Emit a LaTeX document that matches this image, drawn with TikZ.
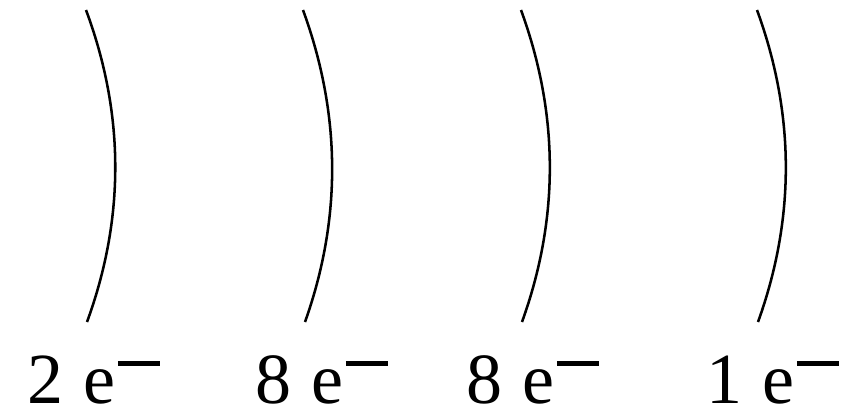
\documentclass[tikz,border=0pt]{standalone}
\usepackage{fontspec}
\setmainfont{Liberation Serif}
\tikzset{every picture/.style={line width=0.75pt}}
\tikzset{shell/.style={line width=1.9pt},
  count/.style={anchor=base west,inner sep=0pt,font=\fontsize{54}{60}\selectfont}}
\newcommand{\elec}{e\hspace{0.03em}\raisebox{0.52em}{\rule{0.58em}{0.07em}}}

\begin{document}
\begin{tikzpicture}[x=0.75pt,y=0.75pt,yscale=-1,xscale=1]
\useasboundingbox (0,0) rectangle (859,419);

%Curve Lines [id:shell1]
\draw [shell] (86,10) .. controls (124.7,114) and (125,218) .. (87,322) ;
%Curve Lines [id:shell2]
\draw [shell] (303,10) .. controls (341,114) and (342,218) .. (305,322) ;
%Curve Lines [id:shell3]
\draw [shell] (521,10) .. controls (559,114) and (559.5,218) .. (522,322) ;
%Curve Lines [id:shell4]
\draw [shell] (757,10) .. controls (795,114) and (795.5,218) .. (758,322) ;

% Text Node
\node [count] (n1) at (27,403) {2\hspace{0.28em}\elec};
% Text Node
\node [count] (n2) at (255,403) {8\hspace{0.28em}\elec};
% Text Node
\node [count] (n3) at (466,403) {8\hspace{0.28em}\elec};
% Text Node
\node [count] (n4) at (706,403) {1\hspace{0.28em}\elec};
\end{tikzpicture}
\end{document}
